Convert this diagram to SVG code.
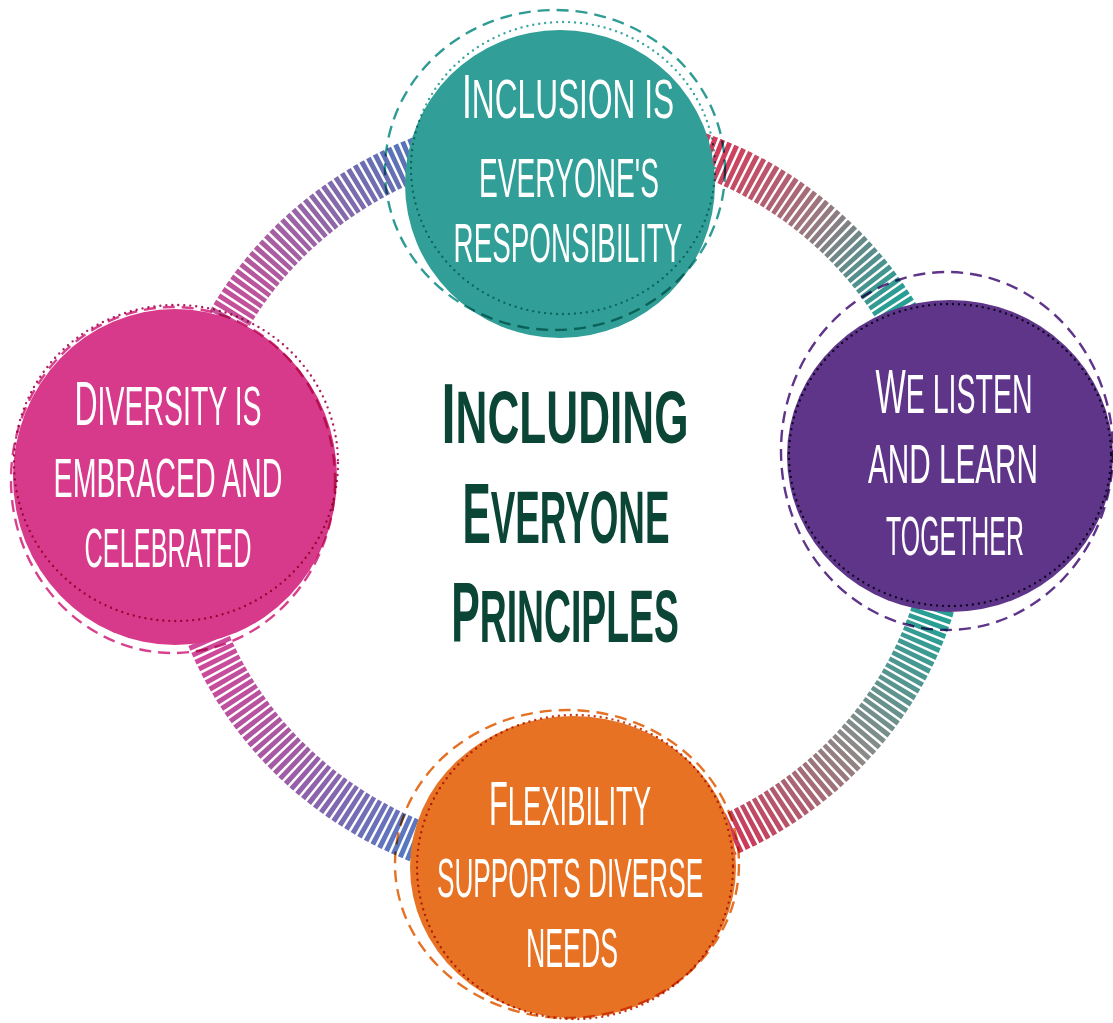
<svg xmlns="http://www.w3.org/2000/svg" width="1113" height="1023" viewBox="0 0 1113 1023">
<style>
.band{fill:none;stroke-width:42;stroke-dasharray:4.8 2.4}
.dash{fill:none;stroke-width:2.4;stroke-dasharray:12 7;mix-blend-mode:multiply}
.dot{fill:none;stroke-width:2.4;stroke-dasharray:0 6;stroke-linecap:round;mix-blend-mode:multiply}
.lbl{font-family:"Liberation Sans",Arial,sans-serif;font-weight:400;fill:#ffffff;text-anchor:middle;text-transform:uppercase;font-size:56px}
.lbl .big{font-size:63px}
.title{font-family:"Liberation Sans",Arial,sans-serif;font-weight:700;fill:#0b4536;text-anchor:middle;text-transform:uppercase;font-size:74px}
.title .big{font-size:85px}
</style>
<defs>
<linearGradient id="gTL" gradientUnits="userSpaceOnUse" x1="230" y1="310" x2="400" y2="150">
<stop offset="0" stop-color="#c6509a"/><stop offset="0.5" stop-color="#9865a6"/><stop offset="1" stop-color="#5873b7"/>
</linearGradient>
<linearGradient id="gTR" gradientUnits="userSpaceOnUse" x1="720" y1="150" x2="895" y2="300">
<stop offset="0" stop-color="#d43a5a"/><stop offset="0.5" stop-color="#9c7880"/><stop offset="1" stop-color="#289e95"/>
</linearGradient>
<linearGradient id="gRB" gradientUnits="userSpaceOnUse" x1="930" y1="620" x2="745" y2="845">
<stop offset="0" stop-color="#289e95"/><stop offset="0.5" stop-color="#8c8a88"/><stop offset="1" stop-color="#cc3a5a"/>
</linearGradient>
<linearGradient id="gBL" gradientUnits="userSpaceOnUse" x1="205" y1="650" x2="405" y2="845">
<stop offset="0" stop-color="#d0489a"/><stop offset="0.5" stop-color="#a05ca5"/><stop offset="1" stop-color="#5878c0"/>
</linearGradient>
</defs>
<rect width="1113" height="1023" fill="#ffffff"/>
<g id="connectors">
<path class="band" stroke="url(#gTL)" d="M 180 500 A 385 370 0 0 1 565 130"/>
<path class="band" stroke="url(#gTR)" d="M 565 130 A 385 370 0 0 1 950 500"/>
<path class="band" stroke="url(#gRB)" d="M 950 500 A 385 370 0 0 1 565 870"/>
<path class="band" stroke="url(#gBL)" d="M 565 870 A 385 370 0 0 1 180 500"/>
</g>
<g id="node-inclusion">
<ellipse cx="560" cy="184" rx="155" ry="154" fill="#319e97"/>
<ellipse class="dash" cx="555" cy="170" rx="170" ry="160" stroke="#2e9c94"/>
<ellipse class="dot" cx="563" cy="168" rx="152" ry="146" stroke="#3aa8a0"/>
<text class="lbl" transform="translate(568 118) scale(0.52 1)" textLength="408" lengthAdjust="spacingAndGlyphs"><tspan class="big">I</tspan>nclusion is</text>
<text class="lbl" transform="translate(569 197) scale(0.52 1)" textLength="346" lengthAdjust="spacingAndGlyphs">everyone's</text>
<text class="lbl" transform="translate(568 262) scale(0.52 1)" textLength="440" lengthAdjust="spacingAndGlyphs">responsibility</text>
</g>
<g id="node-listen">
<ellipse cx="950" cy="456" rx="163" ry="156" fill="#5f3589"/>
<ellipse class="dash" cx="947" cy="451" rx="166" ry="179" stroke="#5f3589"/>
<ellipse class="dot" cx="950" cy="455" rx="161" ry="151" stroke="#2a1245"/>
<text class="lbl" transform="translate(954 413) scale(0.52 1)" textLength="302" lengthAdjust="spacingAndGlyphs"><tspan class="big">W</tspan>e listen</text>
<text class="lbl" transform="translate(953 483) scale(0.52 1)" textLength="327" lengthAdjust="spacingAndGlyphs">and learn</text>
<text class="lbl" transform="translate(955 555) scale(0.52 1)" textLength="265" lengthAdjust="spacingAndGlyphs">together</text>
</g>
<g id="node-diversity">
<ellipse cx="175" cy="477" rx="162" ry="168" fill="#d83a8b"/>
<ellipse class="dash" cx="173" cy="480" rx="162" ry="173" stroke="#d8408e"/>
<ellipse class="dot" cx="176" cy="463" rx="162" ry="158" stroke="#b01e60"/>
<text class="lbl" transform="translate(168 425) scale(0.52 1)" textLength="360" lengthAdjust="spacingAndGlyphs"><tspan class="big">D</tspan>iversity is</text>
<text class="lbl" transform="translate(168 497) scale(0.52 1)" textLength="440" lengthAdjust="spacingAndGlyphs">embraced and</text>
<text class="lbl" transform="translate(168 567) scale(0.52 1)" textLength="321" lengthAdjust="spacingAndGlyphs">celebrated</text>
</g>
<g id="node-flexibility">
<ellipse cx="573" cy="867" rx="163" ry="151" fill="#e77224"/>
<ellipse class="dash" cx="567" cy="864" rx="172" ry="154" stroke="#e57124"/>
<ellipse class="dot" cx="575" cy="867" rx="158" ry="152" stroke="#c43c18"/>
<text class="lbl" transform="translate(570 825) scale(0.52 1)" textLength="312" lengthAdjust="spacingAndGlyphs"><tspan class="big">F</tspan>lexibility</text>
<text class="lbl" transform="translate(570 897) scale(0.52 1)" textLength="512" lengthAdjust="spacingAndGlyphs">supports diverse</text>
<text class="lbl" transform="translate(572 967) scale(0.52 1)" textLength="177" lengthAdjust="spacingAndGlyphs">needs</text>
</g>
<g id="title">
<text class="title" transform="translate(565 443) scale(0.52 1)" textLength="475" lengthAdjust="spacingAndGlyphs"><tspan class="big">I</tspan>ncluding</text>
<text class="title" transform="translate(566 543) scale(0.52 1)" textLength="398" lengthAdjust="spacingAndGlyphs"><tspan class="big">E</tspan>veryone</text>
<text class="title" transform="translate(565 642) scale(0.52 1)" textLength="438" lengthAdjust="spacingAndGlyphs"><tspan class="big">P</tspan>rinciples</text>
</g>
</svg>
